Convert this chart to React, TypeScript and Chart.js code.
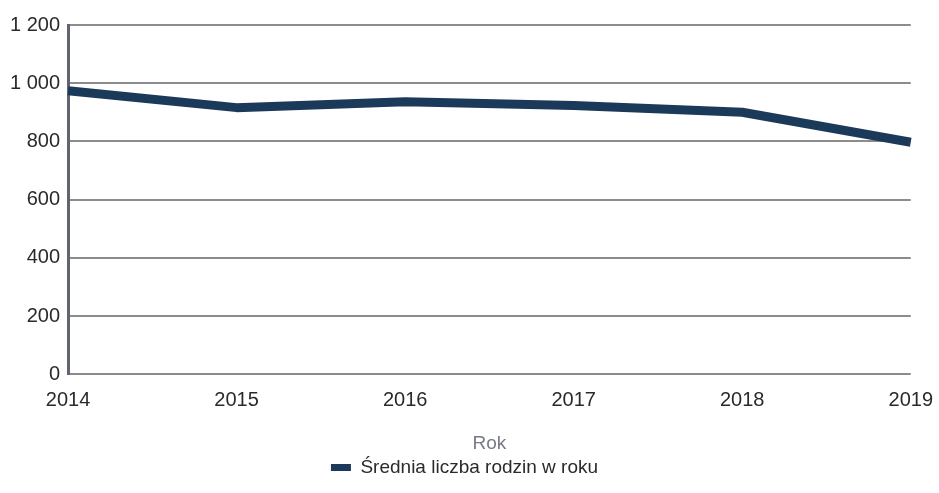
import React, { useEffect, useRef } from "react";
import { Chart, registerables } from "chart.js";

Chart.register(...registerables);

const years = ["2014", "2015", "2016", "2017", "2018", "2019"];
const families = [974, 916, 936, 923, 900, 797];
const seriesLabel = "Średnia liczba rodzin w roku";
const xTitle = "Rok";

const FONT = "'Liberation Sans', Arial, Helvetica, sans-serif";

export default function App() {
  const ref = useRef<HTMLCanvasElement | null>(null);
  useEffect(() => {
    if (!ref.current) return;
    const chart = new Chart(ref.current, {
      type: "line",
      data: {
        labels: years,
        datasets: [
          {
            label: seriesLabel,
            data: families,
            borderColor: "#1b3a5a",
            backgroundColor: "#1b3a5a",
            borderWidth: 9,
            pointRadius: 0,
            tension: 0,
            borderCapStyle: "butt",
            borderJoinStyle: "round",
            fill: false,
          },
        ],
      },
      options: {
        animation: false,
        responsive: false,
        layout: { padding: { left: 2, right: 12, top: 25, bottom: 6 } },
        plugins: {
          legend: {
            position: "bottom",
            labels: {
              boxWidth: 20,
              boxHeight: 7,
              color: "#2a2a2a",
              font: { family: FONT, size: 19 },
              padding: 3,
              generateLabels: (c: any) =>
                Chart.defaults.plugins.legend.labels
                  .generateLabels(c)
                  .map((it: any) => ({ ...it, lineWidth: 0, fillStyle: "#1b3a5a" })),
            },
          },
          tooltip: { enabled: false },
        },
        scales: {
          x: {
            offset: false,
            grid: { display: false },
            border: { display: false },
            ticks: {
              color: "#2a2a2a",
              font: { family: FONT, size: 20 },
              padding: 6,
              maxRotation: 0,
            },
            title: {
              display: true,
              text: xTitle,
              color: "#777b84",
              font: { family: FONT, size: 19 },
              padding: { top: 14, bottom: 0 },
            },
          },
          y: {
            min: 0,
            max: 1200,
            grid: { color: "#8c8c8c", lineWidth: 2, drawTicks: false },
            border: { display: true, color: "#5f6470", width: 3 },
            ticks: {
              stepSize: 200,
              color: "#2a2a2a",
              font: { family: FONT, size: 20 },
              padding: 8,
              callback: (v: any) =>
                String(v).replace(/\B(?=(\d{3})+(?!\d))/g, " "),
            },
          },
        },
      },
    });
    return () => chart.destroy();
  }, []);
  return (
    <div style={{ position: "absolute", left: 0, top: 0, width: 939, height: 493, background: "#fff" }}>
      <canvas ref={ref} width={939} height={493} />
    </div>
  );
}
